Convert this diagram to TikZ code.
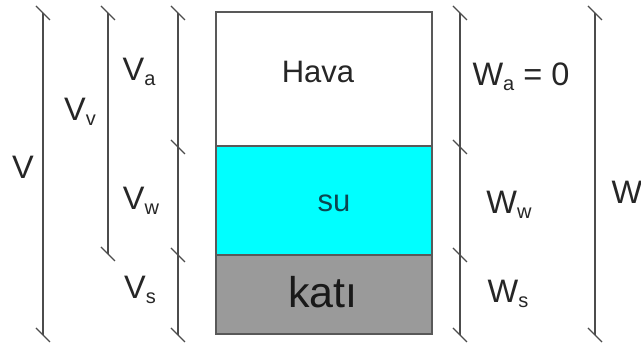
\documentclass[tikz,border=0pt]{standalone}
\usepackage{fontspec}
\setmainfont{Liberation Sans}
\definecolor{watercyan}{RGB}{0,255,255}
\definecolor{solidgray}{RGB}{154,154,154}
\definecolor{sutext}{RGB}{12,70,80}
\newcommand{\mysub}[2]{#1{\fontsize{20}{20}\selectfont\raisebox{-5.5pt}{#2}}}
\begin{document}
\begin{tikzpicture}[x=1pt,y=-1pt,
  dimline/.style={draw=black!70, line width=1.4pt},
  boxline/.style={draw=black!65, line width=1.2pt},
  lbl/.style={inner sep=0pt, font=\fontsize{32.5}{36}\selectfont, text=black!85},
  tk/.pic={\draw[dimline] (-7,-7) -- (7,7);}
]
\useasboundingbox (0,0) rectangle (641,352);
% layers
\coordinate (bTL) at (216,12);
\coordinate (bA) at (432,146);
\coordinate (bW1) at (216,146);
\coordinate (bW2) at (432,255);
\coordinate (bS1) at (216,255);
\coordinate (bBR) at (432,334);
\fill[white] (bTL) rectangle (bA);
\fill[watercyan] (bW1) rectangle (bW2);
\fill[solidgray] (bS1) rectangle (bBR);
\draw[boxline] (bW1) -- (bA);
\draw[boxline] (bS1) -- (bW2);
\draw[boxline] (bTL) rectangle (bBR);
\node[lbl, font=\fontsize{31}{36}\selectfont] (hava) at (318,72) {Hava};
\node[lbl, font=\fontsize{31}{36}\selectfont, text=sutext] (su) at (334,203) {su};
\node[lbl, font=\fontsize{43}{48}\selectfont, text=black!90] (kati) at (323,292) {katı};
% dimension line V
\coordinate (v1) at (43,13); \coordinate (v2) at (43,335);
\draw[dimline] (v1) -- (v2);
\pic at (v1) {tk}; \pic at (v2) {tk};
% Vv
\coordinate (vv1) at (108,13); \coordinate (vv2) at (108,254);
\draw[dimline] (vv1) -- (vv2);
\pic at (vv1) {tk}; \pic at (vv2) {tk};
% Va Vw Vs
\coordinate (p1) at (178,13); \coordinate (p2) at (178,147);
\coordinate (p3) at (178,255); \coordinate (p4) at (178,335);
\draw[dimline] (p1) -- (p4);
\foreach \c in {p1,p2,p3,p4} {\pic at (\c) {tk};}
% Wa Ww Ws
\coordinate (q1) at (460,13); \coordinate (q2) at (460,147);
\coordinate (q3) at (460,255); \coordinate (q4) at (460,335);
\draw[dimline] (q1) -- (q4);
\foreach \c in {q1,q2,q3,q4} {\pic at (\c) {tk};}
% W
\coordinate (w1) at (595,13); \coordinate (w2) at (595,335);
\draw[dimline] (w1) -- (w2);
\pic at (w1) {tk}; \pic at (w2) {tk};
% labels
\node[lbl] (lV) at (23,167) {V};
\node[lbl] (lVv) at (80,112) {\mysub{V}{v}};
\node[lbl] (lVa) at (139,72) {\mysub{V}{a}};
\node[lbl] (lVw) at (141,201) {\mysub{V}{w}};
\node[lbl] (lVs) at (140,290) {\mysub{V}{s}};
\node[lbl] (lWa) at (521,77) {\mysub{W}{a} = 0};
\node[lbl] (lWw) at (509,205) {\mysub{W}{w}};
\node[lbl] (lWs) at (508,294) {\mysub{W}{s}};
\node[lbl] (lW) at (627,192) {W};
\end{tikzpicture}
\end{document}
